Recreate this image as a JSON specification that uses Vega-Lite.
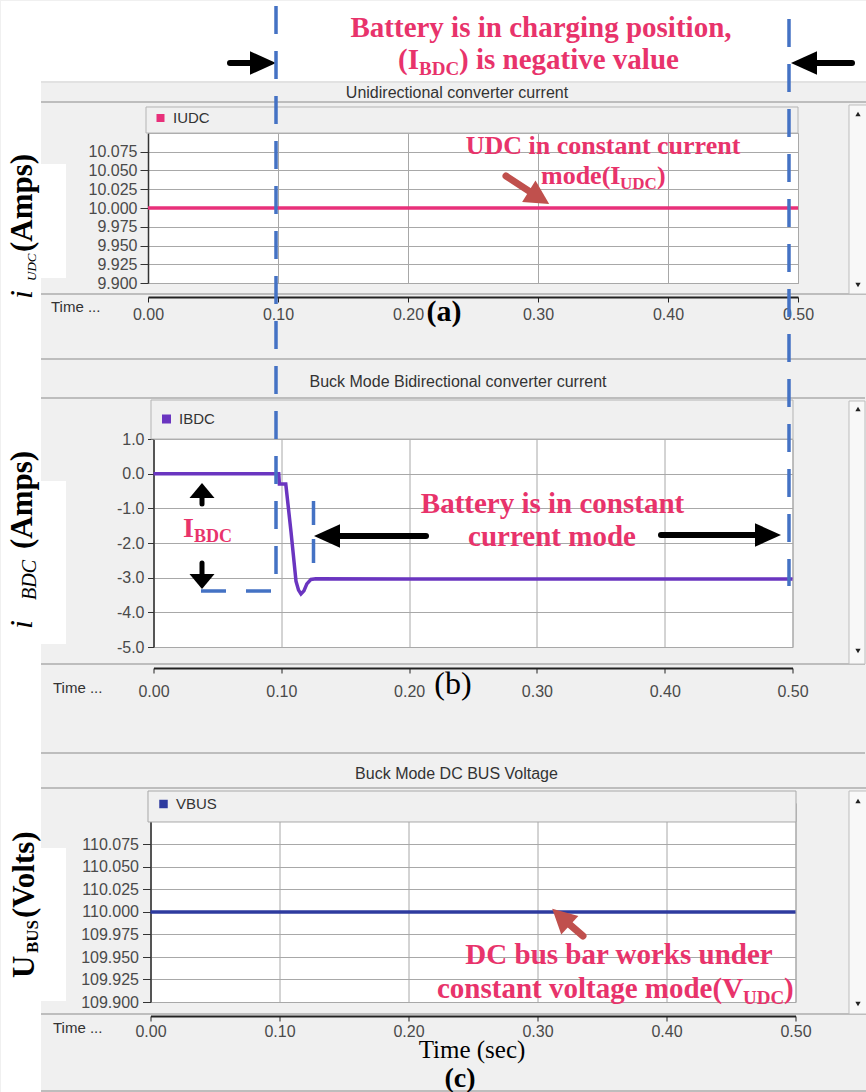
{
"$schema": "https://vega.github.io/schema/vega-lite/v6.json",
"background": "#f0f0f0",
"padding": 0,
"autosize": {"type": "pad"},
"config": {
  "view": {"fill": "white", "stroke": "#a8a8a8", "strokeWidth": 1},
  "axis": {"labelFont": "Liberation Sans", "labelFontSize": 16, "labelColor": "#4a4a4a", "labelFlush": false, "labelOverlap": false, "gridColor": "#a8a8a8", "gridWidth": 1, "tickColor": "#333", "domainColor": "#333"}
},
"datasets": {
  "iudc": [{"t": 0, "v": 10, "s": "IUDC"}, {"t": 0.5, "v": 10, "s": "IUDC"}],
  "ibdc": [
    {"t": 0, "v": 0, "s": "IBDC"}, {"t": 0.098, "v": 0, "s": "IBDC"}, {"t": 0.0985, "v": -0.3, "s": "IBDC"},
    {"t": 0.1035, "v": -0.3, "s": "IBDC"}, {"t": 0.1076, "v": -1.68, "s": "IBDC"}, {"t": 0.1115, "v": -3.1, "s": "IBDC"},
    {"t": 0.1135, "v": -3.36, "s": "IBDC"}, {"t": 0.1154, "v": -3.47, "s": "IBDC"}, {"t": 0.1177, "v": -3.38, "s": "IBDC"},
    {"t": 0.12, "v": -3.18, "s": "IBDC"}, {"t": 0.1232, "v": -3.05, "s": "IBDC"}, {"t": 0.127, "v": -3.03, "s": "IBDC"},
    {"t": 0.2, "v": -3.04, "s": "IBDC"}, {"t": 0.3, "v": -3.04, "s": "IBDC"}, {"t": 0.4, "v": -3.04, "s": "IBDC"}, {"t": 0.5, "v": -3.04, "s": "IBDC"}
  ],
  "vbus": [{"t": 0, "v": 110, "s": "VBUS"}, {"t": 0.5, "v": 110, "s": "VBUS"}]
},
"vconcat": [
{
  "width": 650, "height": 150,
  "data": {"values": [{}]},
  "resolve": {"axis": {"x": "independent", "y": "independent"}},
  "layer": [
    {"data": {"name": "iudc"}, "mark": {"type": "line", "strokeWidth": 3.5},
     "encoding": {
       "x": {"field": "t", "type": "quantitative", "scale": {"domain": [0, 0.5], "nice": false, "zero": false},
             "axis": {"title": null, "values": [0, 0.1, 0.2, 0.3, 0.4, 0.5], "format": ".2f", "offset": 14, "tickSize": 5, "labelPadding": 4, "domainWidth": 2, "domainColor": "#222", "tickColor": "#222", "grid": true}},
       "y": {"field": "v", "type": "quantitative", "scale": {"domain": [9.9, 10.1], "nice": false, "zero": false},
             "axis": {"title": null, "values": [9.9, 9.925, 9.95, 9.975, 10, 10.025, 10.05, 10.075], "format": ".3f", "tickSize": 8, "labelPadding": 3, "domainWidth": 1.5, "grid": true}},
       "color": {"field": "s", "type": "nominal", "scale": {"range": ["#e8307a"]},
                 "legend": {"title": null, "orient": "none", "legendX": 5, "legendY": -22.5, "symbolType": "square", "symbolSize": 64, "symbolStrokeWidth": 0, "symbolFillColor": "#e8307a", "labelFont": "Liberation Sans", "labelFontSize": 15, "labelColor": "#333", "labelOffset": 5, "padding": 0,
                            "encode": {"symbols": {"update": {"fill": {"value": "#e8307a"}, "stroke": {"value": "#e8307a"}}}}}}
     }},
    {"mark": {"type": "rect", "color": "white"}, "encoding": {"x": {"datum": -0.113077, "type": "quantitative", "axis": null}, "x2": {"datum": 0.553077}, "y": {"datum": 10.276, "type": "quantitative", "axis": null}, "y2": {"datum": 10.169333}}},
    {"mark": {"type": "rect", "color": "white"}, "encoding": {"x": {"datum": -0.113077, "type": "quantitative", "axis": null}, "x2": {"datum": -0.082308}, "y": {"datum": 10.276, "type": "quantitative", "axis": null}, "y2": {"datum": 8.82}}},
    {"mark": {"type": "rect", "color": "white"}, "encoding": {"x": {"datum": -0.082308, "type": "quantitative", "axis": null}, "x2": {"datum": -0.063077}, "y": {"datum": 10.058667, "type": "quantitative", "axis": null}, "y2": {"datum": 9.906667}}},
    {"mark": {"type": "rule", "color": "#d4d4d4", "strokeWidth": 1}, "encoding": {"x": {"datum": -0.082308, "type": "quantitative", "axis": null}, "x2": {"datum": 0.553077}, "y": {"datum": 10.168, "type": "quantitative", "axis": null}}},
    {"mark": {"type": "rule", "color": "#bdbdbd", "strokeWidth": 2}, "encoding": {"x": {"datum": -0.082308, "type": "quantitative", "axis": null}, "x2": {"datum": 0.553077}, "y": {"datum": 10.141333, "type": "quantitative", "axis": null}}},
    {"mark": {"type": "rule", "color": "#bdbdbd", "strokeWidth": 2}, "encoding": {"x": {"datum": -0.082308, "type": "quantitative", "axis": null}, "x2": {"datum": 0.553077}, "y": {"datum": 9.885333, "type": "quantitative", "axis": null}}},
    {"mark": {"type": "rule", "color": "#bdbdbd", "strokeWidth": 2}, "encoding": {"x": {"datum": -0.082308, "type": "quantitative", "axis": null}, "x2": {"datum": 0.553077}, "y": {"datum": 9.798667, "type": "quantitative", "axis": null}}},
    {"mark": {"type": "rect", "fill": "#f0f0f0", "stroke": "#b4b4b4", "strokeWidth": 1}, "encoding": {"x": {"datum": -0.001538, "type": "quantitative", "axis": null}, "x2": {"datum": 0.5}, "y": {"datum": 10.134667, "type": "quantitative", "axis": null}, "y2": {"datum": 10.1}}},
    {"mark": {"type": "rect", "fill": "#f8f8f8", "stroke": "#bdbdbd", "strokeWidth": 1}, "encoding": {"x": {"datum": 0.539231, "type": "quantitative", "axis": null}, "x2": {"datum": 0.553077}, "y": {"datum": 10.137333, "type": "quantitative", "axis": null}, "y2": {"datum": 9.885333}}},
    {"mark": {"type": "point", "shape": "triangle-up", "size": 28, "filled": true, "color": "#222", "opacity": 1}, "encoding": {"x": {"datum": 0.546154, "type": "quantitative", "axis": null}, "y": {"datum": 10.125333, "type": "quantitative", "axis": null}}},
    {"mark": {"type": "point", "shape": "triangle-down", "size": 28, "filled": true, "color": "#222", "opacity": 1}, "encoding": {"x": {"datum": 0.546154, "type": "quantitative", "axis": null}, "y": {"datum": 9.897333, "type": "quantitative", "axis": null}}},
    {"mark": {"type": "text", "text": "Unidirectional converter current", "font": "Liberation Sans", "fontSize": 16, "color": "#333", "align": "center", "baseline": "middle"}, "encoding": {"x": {"datum": 0.237692, "type": "quantitative", "axis": null}, "y": {"datum": 10.153333, "type": "quantitative", "axis": null}}},
    {"mark": {"type": "text", "text": "Time ...", "font": "Liberation Sans", "fontSize": 15, "color": "#333", "align": "left", "baseline": "middle"}, "encoding": {"x": {"datum": -0.074615, "type": "quantitative", "axis": null}, "y": {"datum": 9.868, "type": "quantitative", "axis": null}}},
    {"mark": {"type": "text", "text": "i", "font": "Liberation Serif", "fontSize": 32, "fontStyle": "italic", "color": "#000", "angle": 270, "align": "left", "baseline": "alphabetic"}, "encoding": {"x": {"datum": -0.089231, "type": "quantitative", "axis": null}, "y": {"datum": 9.878667, "type": "quantitative", "axis": null}}},
    {"mark": {"type": "text", "text": "UDC", "font": "Liberation Serif", "fontSize": 13, "fontStyle": "italic", "color": "#000", "angle": 270, "align": "left", "baseline": "alphabetic"}, "encoding": {"x": {"datum": -0.086154, "type": "quantitative", "axis": null}, "y": {"datum": 9.902667, "type": "quantitative", "axis": null}}},
    {"mark": {"type": "text", "text": "(Amps)", "font": "Liberation Serif", "fontSize": 31, "fontWeight": "bold", "color": "#000", "angle": 270, "align": "left", "baseline": "alphabetic"}, "encoding": {"x": {"datum": -0.089231, "type": "quantitative", "axis": null}, "y": {"datum": 9.941333, "type": "quantitative", "axis": null}}},
    {"mark": {"type": "text", "text": "(a)", "font": "Liberation Serif", "fontSize": 30, "fontWeight": "bold", "color": "#000", "align": "center", "baseline": "alphabetic"}, "encoding": {"x": {"datum": 0.227692, "type": "quantitative", "axis": null}, "y": {"datum": 9.849333, "type": "quantitative", "axis": null}}},
    {"mark": {"type": "text", "text": "Battery is in charging position,", "font": "Liberation Serif", "fontSize": 29, "fontWeight": "bold", "color": "#e8336b", "align": "center", "baseline": "alphabetic"}, "encoding": {"x": {"datum": 0.302308, "type": "quantitative", "axis": null}, "y": {"datum": 10.228, "type": "quantitative", "axis": null}}},
    {"mark": {"type": "text", "text": "(I", "font": "Liberation Serif", "fontSize": 29, "fontWeight": "bold", "color": "#e8336b", "align": "left", "baseline": "alphabetic"}, "encoding": {"x": {"datum": 0.192308, "type": "quantitative", "axis": null}, "y": {"datum": 10.185333, "type": "quantitative", "axis": null}}},
    {"mark": {"type": "text", "text": "BDC", "font": "Liberation Serif", "fontSize": 19, "fontWeight": "bold", "color": "#e8336b", "align": "left", "baseline": "alphabetic"}, "encoding": {"x": {"datum": 0.208462, "type": "quantitative", "axis": null}, "y": {"datum": 10.177333, "type": "quantitative", "axis": null}}},
    {"mark": {"type": "text", "text": ") is negative value", "font": "Liberation Serif", "fontSize": 29, "fontWeight": "bold", "color": "#e8336b", "align": "left", "baseline": "alphabetic"}, "encoding": {"x": {"datum": 0.239231, "type": "quantitative", "axis": null}, "y": {"datum": 10.185333, "type": "quantitative", "axis": null}}},
    {"mark": {"type": "rule", "color": "#000", "strokeWidth": 6, "strokeCap": "round"}, "encoding": {"x": {"datum": 0.063077, "type": "quantitative", "axis": null}, "x2": {"datum": 0.088462}, "y": {"datum": 10.193333, "type": "quantitative", "axis": null}}},
    {"mark": {"type": "point", "shape": "M-1,0L1,-0.9L1,0.9Z", "size": 676, "angle": 180, "filled": true, "color": "#000", "opacity": 1, "strokeWidth": 0}, "encoding": {"x": {"datum": 0.088462, "type": "quantitative", "axis": null}, "y": {"datum": 10.193333, "type": "quantitative", "axis": null}}},
    {"mark": {"type": "rule", "color": "#000", "strokeWidth": 6, "strokeCap": "round"}, "encoding": {"x": {"datum": 0.504615, "type": "quantitative", "axis": null}, "x2": {"datum": 0.541538}, "y": {"datum": 10.193333, "type": "quantitative", "axis": null}}},
    {"mark": {"type": "point", "shape": "M-1,0L1,-0.9L1,0.9Z", "size": 676, "angle": 0, "filled": true, "color": "#000", "opacity": 1, "strokeWidth": 0}, "encoding": {"x": {"datum": 0.504615, "type": "quantitative", "axis": null}, "y": {"datum": 10.193333, "type": "quantitative", "axis": null}}},
    {"mark": {"type": "text", "text": "UDC in constant current", "font": "Liberation Serif", "fontSize": 26, "fontWeight": "bold", "color": "#e8336b", "align": "center", "baseline": "alphabetic"}, "encoding": {"x": {"datum": 0.35, "type": "quantitative", "axis": null}, "y": {"datum": 10.072, "type": "quantitative", "axis": null}}},
    {"mark": {"type": "text", "text": "mode(I", "font": "Liberation Serif", "fontSize": 26, "fontWeight": "bold", "color": "#e8336b", "align": "left", "baseline": "alphabetic"}, "encoding": {"x": {"datum": 0.302308, "type": "quantitative", "axis": null}, "y": {"datum": 10.032, "type": "quantitative", "axis": null}}},
    {"mark": {"type": "text", "text": "UDC", "font": "Liberation Serif", "fontSize": 17, "fontWeight": "bold", "color": "#e8336b", "align": "left", "baseline": "alphabetic"}, "encoding": {"x": {"datum": 0.363077, "type": "quantitative", "axis": null}, "y": {"datum": 10.025333, "type": "quantitative", "axis": null}}},
    {"mark": {"type": "text", "text": ")", "font": "Liberation Serif", "fontSize": 26, "fontWeight": "bold", "color": "#e8336b", "align": "left", "baseline": "alphabetic"}, "encoding": {"x": {"datum": 0.391538, "type": "quantitative", "axis": null}, "y": {"datum": 10.032, "type": "quantitative", "axis": null}}},
    {"mark": {"type": "rule", "color": "#c0504d", "strokeWidth": 7, "strokeCap": "round"}, "encoding": {"x": {"datum": 0.275385, "type": "quantitative", "axis": null}, "x2": {"datum": 0.300769}, "y": {"datum": 10.042667, "type": "quantitative", "axis": null}, "y2": {"datum": 10.013867}}},
    {"mark": {"type": "point", "shape": "M-1,0L1,-1.05L1,1.05Z", "size": 576, "angle": 212, "filled": true, "color": "#c0504d", "opacity": 1, "strokeWidth": 0}, "encoding": {"x": {"datum": 0.300769, "type": "quantitative", "axis": null}, "y": {"datum": 10.013867, "type": "quantitative", "axis": null}}}
  ]
},
{
  "width": 639, "height": 208,
  "data": {"values": [{}]},
  "resolve": {"axis": {"x": "independent", "y": "independent"}},
  "layer": [
    {"data": {"name": "ibdc"}, "mark": {"type": "line", "strokeWidth": 3.5},
     "encoding": {
       "x": {"field": "t", "type": "quantitative", "scale": {"domain": [0, 0.5], "nice": false, "zero": false},
             "axis": {"title": null, "values": [0, 0.1, 0.2, 0.3, 0.4, 0.5], "format": ".2f", "offset": 21, "tickSize": 5, "labelPadding": 10, "domainWidth": 2, "domainColor": "#222", "tickColor": "#222", "grid": true}},
       "y": {"field": "v", "type": "quantitative", "scale": {"domain": [-5, 1], "nice": false, "zero": false},
             "axis": {"title": null, "values": [-5, -4, -3, -2, -1, 0, 1], "format": ".1f", "labelExpr": "replace(datum.label, '\u2212', '-')", "tickSize": 6, "labelPadding": 3.5, "domainWidth": 1.5, "grid": true}},
       "color": {"field": "s", "type": "nominal", "scale": {"range": ["#6a35c0"]},
                 "legend": {"title": null, "orient": "none", "legendX": 5.5, "legendY": -27.5, "symbolType": "square", "symbolSize": 81, "symbolStrokeWidth": 0, "symbolFillColor": "#6a35c0", "labelFont": "Liberation Sans", "labelFontSize": 15, "labelColor": "#333", "labelOffset": 5, "padding": 0,
                            "encode": {"symbols": {"update": {"fill": {"value": "#6a35c0"}, "stroke": {"value": "#6a35c0"}}}}}}
     }},
    {"mark": {"type": "rect", "color": "white"}, "encoding": {"x": {"datum": -0.088028, "type": "quantitative", "axis": null}, "x2": {"datum": -0.068466}, "y": {"datum": -0.211538, "type": "quantitative", "axis": null}, "y2": {"datum": -4.913462}}},
    {"mark": {"type": "rule", "color": "#bdbdbd", "strokeWidth": 2}, "encoding": {"x": {"datum": -0.088028, "type": "quantitative", "axis": null}, "x2": {"datum": 0.556729}, "y": {"datum": 2.182692, "type": "quantitative", "axis": null}}},
    {"mark": {"type": "rule", "color": "#bdbdbd", "strokeWidth": 2}, "encoding": {"x": {"datum": -0.088028, "type": "quantitative", "axis": null}, "x2": {"datum": 0.556729}, "y": {"datum": -5.490385, "type": "quantitative", "axis": null}}},
    {"mark": {"type": "rule", "color": "#bdbdbd", "strokeWidth": 2}, "encoding": {"x": {"datum": -0.088028, "type": "quantitative", "axis": null}, "x2": {"datum": 0.556729}, "y": {"datum": -8.057692, "type": "quantitative", "axis": null}}},
    {"mark": {"type": "rect", "fill": "#f0f0f0", "stroke": "#b4b4b4", "strokeWidth": 1}, "encoding": {"x": {"datum": -0.001956, "type": "quantitative", "axis": null}, "x2": {"datum": 0.500391}, "y": {"datum": 2.125, "type": "quantitative", "axis": null}, "y2": {"datum": 1}}},
    {"mark": {"type": "rect", "fill": "#f8f8f8", "stroke": "#bdbdbd", "strokeWidth": 1}, "encoding": {"x": {"datum": 0.54421, "type": "quantitative", "axis": null}, "x2": {"datum": 0.556729}, "y": {"datum": 2.096154, "type": "quantitative", "axis": null}, "y2": {"datum": -5.490385}}},
    {"mark": {"type": "point", "shape": "triangle-up", "size": 28, "filled": true, "color": "#222", "opacity": 1}, "encoding": {"x": {"datum": 0.551252, "type": "quantitative", "axis": null}, "y": {"datum": 1.865385, "type": "quantitative", "axis": null}}},
    {"mark": {"type": "point", "shape": "triangle-down", "size": 28, "filled": true, "color": "#222", "opacity": 1}, "encoding": {"x": {"datum": 0.551252, "type": "quantitative", "axis": null}, "y": {"datum": -5.115385, "type": "quantitative", "axis": null}}},
    {"mark": {"type": "text", "text": "Buck Mode Bidirectional converter current", "font": "Liberation Sans", "fontSize": 16, "color": "#333", "align": "center", "baseline": "middle"}, "encoding": {"x": {"datum": 0.238263, "type": "quantitative", "axis": null}, "y": {"datum": 2.644231, "type": "quantitative", "axis": null}}},
    {"mark": {"type": "text", "text": "Time ...", "font": "Liberation Sans", "fontSize": 15, "color": "#333", "align": "left", "baseline": "middle"}, "encoding": {"x": {"datum": -0.078638, "type": "quantitative", "axis": null}, "y": {"datum": -6.182692, "type": "quantitative", "axis": null}}},
    {"mark": {"type": "text", "text": "i", "font": "Liberation Serif", "fontSize": 32, "fontStyle": "italic", "color": "#000", "angle": 270, "align": "left", "baseline": "alphabetic"}, "encoding": {"x": {"datum": -0.09507, "type": "quantitative", "axis": null}, "y": {"datum": -4.480769, "type": "quantitative", "axis": null}}},
    {"mark": {"type": "text", "text": "BDC", "font": "Liberation Serif", "fontSize": 20, "fontStyle": "italic", "color": "#000", "angle": 270, "align": "left", "baseline": "alphabetic"}, "encoding": {"x": {"datum": -0.091941, "type": "quantitative", "axis": null}, "y": {"datum": -3.644231, "type": "quantitative", "axis": null}}},
    {"mark": {"type": "text", "text": "(Amps)", "font": "Liberation Serif", "fontSize": 31, "fontWeight": "bold", "color": "#000", "angle": 270, "align": "left", "baseline": "alphabetic"}, "encoding": {"x": {"datum": -0.09507, "type": "quantitative", "axis": null}, "y": {"datum": -2.173077, "type": "quantitative", "axis": null}}},
    {"mark": {"type": "text", "text": "(b)", "font": "Liberation Serif", "fontSize": 32, "color": "#000", "align": "center", "baseline": "alphabetic"}, "encoding": {"x": {"datum": 0.234351, "type": "quantitative", "axis": null}, "y": {"datum": -6.355769, "type": "quantitative", "axis": null}}},
    {"mark": {"type": "text", "text": "Battery is in constant", "font": "Liberation Serif", "fontSize": 29, "fontWeight": "bold", "color": "#e8336b", "align": "center", "baseline": "alphabetic"}, "encoding": {"x": {"datum": 0.312207, "type": "quantitative", "axis": null}, "y": {"datum": -1.134615, "type": "quantitative", "axis": null}}},
    {"mark": {"type": "text", "text": "current mode", "font": "Liberation Serif", "fontSize": 29, "fontWeight": "bold", "color": "#e8336b", "align": "center", "baseline": "alphabetic"}, "encoding": {"x": {"datum": 0.311815, "type": "quantitative", "axis": null}, "y": {"datum": -2.086538, "type": "quantitative", "axis": null}}},
    {"mark": {"type": "rule", "color": "#000", "strokeWidth": 6, "strokeCap": "round"}, "encoding": {"x": {"datum": 0.135759, "type": "quantitative", "axis": null}, "x2": {"datum": 0.213224}, "y": {"datum": -1.798077, "type": "quantitative", "axis": null}}},
    {"mark": {"type": "point", "shape": "M-1,0L1,-0.9L1,0.9Z", "size": 676, "angle": 0, "filled": true, "color": "#000", "opacity": 1, "strokeWidth": 0}, "encoding": {"x": {"datum": 0.135759, "type": "quantitative", "axis": null}, "y": {"datum": -1.798077, "type": "quantitative", "axis": null}}},
    {"mark": {"type": "rule", "color": "#000", "strokeWidth": 6, "strokeCap": "round"}, "encoding": {"x": {"datum": 0.397105, "type": "quantitative", "axis": null}, "x2": {"datum": 0.480829}, "y": {"datum": -1.769231, "type": "quantitative", "axis": null}}},
    {"mark": {"type": "point", "shape": "M-1,0L1,-0.9L1,0.9Z", "size": 676, "angle": 180, "filled": true, "color": "#000", "opacity": 1, "strokeWidth": 0}, "encoding": {"x": {"datum": 0.480829, "type": "quantitative", "axis": null}, "y": {"datum": -1.769231, "type": "quantitative", "axis": null}}},
    {"mark": {"type": "text", "text": "I", "font": "Liberation Serif", "fontSize": 28, "fontWeight": "bold", "color": "#e8336b", "align": "left", "baseline": "alphabetic"}, "encoding": {"x": {"datum": 0.023083, "type": "quantitative", "axis": null}, "y": {"datum": -1.826923, "type": "quantitative", "axis": null}}},
    {"mark": {"type": "text", "text": "BDC", "font": "Liberation Serif", "fontSize": 18, "fontWeight": "bold", "color": "#e8336b", "align": "left", "baseline": "alphabetic"}, "encoding": {"x": {"datum": 0.03169, "type": "quantitative", "axis": null}, "y": {"datum": -1.971154, "type": "quantitative", "axis": null}}},
    {"mark": {"type": "rule", "color": "#000", "strokeWidth": 5, "strokeCap": "round"}, "encoding": {"x": {"datum": 0.03795, "type": "quantitative", "axis": null}, "y": {"datum": -0.485577, "type": "quantitative", "axis": null}, "y2": {"datum": -0.875}}},
    {"mark": {"type": "point", "shape": "M-0.6,0L0.6,-1L0.6,1Z", "size": 625, "angle": 90, "filled": true, "color": "#000", "opacity": 1, "strokeWidth": 0}, "encoding": {"x": {"datum": 0.03795, "type": "quantitative", "axis": null}, "y": {"datum": -0.485577, "type": "quantitative", "axis": null}}},
    {"mark": {"type": "rule", "color": "#000", "strokeWidth": 5, "strokeCap": "round"}, "encoding": {"x": {"datum": 0.03795, "type": "quantitative", "axis": null}, "y": {"datum": -2.576923, "type": "quantitative", "axis": null}, "y2": {"datum": -3.110577}}},
    {"mark": {"type": "point", "shape": "M-0.6,0L0.6,-1L0.6,1Z", "size": 625, "angle": 270, "filled": true, "color": "#000", "opacity": 1, "strokeWidth": 0}, "encoding": {"x": {"datum": 0.03795, "type": "quantitative", "axis": null}, "y": {"datum": -3.110577, "type": "quantitative", "axis": null}}},
    {"mark": {"type": "rule", "color": "#4472c4", "strokeWidth": 3.5, "strokeDash": [28, 17]}, "encoding": {"x": {"datum": 0.095853, "type": "quantitative", "axis": null}, "y": {"datum": 13.490385, "type": "quantitative", "axis": null}, "y2": {"datum": -3.384615}}},
    {"mark": {"type": "rule", "color": "#4472c4", "strokeWidth": 3.5, "strokeDash": [25, 20]}, "encoding": {"x": {"datum": 0.037167, "type": "quantitative", "axis": null}, "x2": {"datum": 0.095853}, "y": {"datum": -3.384615, "type": "quantitative", "axis": null}}},
    {"mark": {"type": "rule", "color": "#4472c4", "strokeWidth": 3.5, "strokeDash": [28, 17]}, "encoding": {"x": {"datum": 0.497261, "type": "quantitative", "axis": null}, "y": {"datum": 13.115385, "type": "quantitative", "axis": null}, "y2": {"datum": -3.240385}}},
    {"mark": {"type": "rule", "color": "#4472c4", "strokeWidth": 3.5, "strokeDash": [24, 14]}, "encoding": {"x": {"datum": 0.125196, "type": "quantitative", "axis": null}, "y": {"datum": -0.788462, "type": "quantitative", "axis": null}, "y2": {"datum": -2.951923}}}
  ]
},
{
  "width": 645, "height": 199,
  "data": {"values": [{}]},
  "resolve": {"axis": {"x": "independent", "y": "independent"}},
  "layer": [
    {"data": {"name": "vbus"}, "mark": {"type": "line", "strokeWidth": 3.5},
     "encoding": {
       "x": {"field": "t", "type": "quantitative", "scale": {"domain": [0, 0.5], "nice": false, "zero": false},
             "axis": {"title": null, "values": [0, 0.1, 0.2, 0.3, 0.4, 0.5], "format": ".2f", "offset": 14, "tickSize": 5, "labelPadding": 2, "domainWidth": 2, "domainColor": "#222", "tickColor": "#222", "grid": true}},
       "y": {"field": "v", "type": "quantitative", "scale": {"domain": [109.9, 110.121111], "nice": false, "zero": false},
             "axis": {"title": null, "values": [109.9, 109.925, 109.95, 109.975, 110, 110.025, 110.05, 110.075], "format": ".3f", "tickSize": 8, "labelPadding": 4, "domainWidth": 1.5, "grid": true}},
       "color": {"field": "s", "type": "nominal", "scale": {"range": ["#2e3b9f"]},
                 "legend": {"title": null, "orient": "none", "legendX": 5.5, "legendY": -6.5, "symbolType": "square", "symbolSize": 72, "symbolStrokeWidth": 0, "symbolFillColor": "#2e3b9f", "labelFont": "Liberation Sans", "labelFontSize": 15, "labelColor": "#333", "labelOffset": 5, "padding": 0,
                            "encode": {"symbols": {"update": {"fill": {"value": "#2e3b9f"}, "stroke": {"value": "#2e3b9f"}}}}}}
     }},
    {"mark": {"type": "rect", "color": "white"}, "encoding": {"x": {"datum": -0.084884, "type": "quantitative", "axis": null}, "x2": {"datum": -0.065504}, "y": {"datum": 110.071111, "type": "quantitative", "axis": null}, "y2": {"datum": 109.901111}}},
    {"mark": {"type": "rule", "color": "#bdbdbd", "strokeWidth": 2}, "encoding": {"x": {"datum": -0.084884, "type": "quantitative", "axis": null}, "x2": {"datum": 0.555426}, "y": {"datum": 110.137778, "type": "quantitative", "axis": null}}},
    {"mark": {"type": "rule", "color": "#bdbdbd", "strokeWidth": 2}, "encoding": {"x": {"datum": -0.084884, "type": "quantitative", "axis": null}, "x2": {"datum": 0.555426}, "y": {"datum": 109.886667, "type": "quantitative", "axis": null}}},
    {"mark": {"type": "rule", "color": "#bdbdbd", "strokeWidth": 2}, "encoding": {"x": {"datum": -0.084884, "type": "quantitative", "axis": null}, "x2": {"datum": 0.555426}, "y": {"datum": 109.801111, "type": "quantitative", "axis": null}}},
    {"mark": {"type": "rect", "fill": "#f0f0f0", "stroke": "#a8a8a8", "strokeWidth": 1}, "encoding": {"x": {"datum": -0.001938, "type": "quantitative", "axis": null}, "x2": {"datum": 0.500388}, "y": {"datum": 110.134444, "type": "quantitative", "axis": null}, "y2": {"datum": 110.1}}},
    {"mark": {"type": "rect", "fill": "#f8f8f8", "stroke": "#bdbdbd", "strokeWidth": 1}, "encoding": {"x": {"datum": 0.541473, "type": "quantitative", "axis": null}, "x2": {"datum": 0.555426}, "y": {"datum": 110.134444, "type": "quantitative", "axis": null}, "y2": {"datum": 109.886667}}},
    {"mark": {"type": "point", "shape": "triangle-up", "size": 28, "filled": true, "color": "#222", "opacity": 1}, "encoding": {"x": {"datum": 0.54845, "type": "quantitative", "axis": null}, "y": {"datum": 110.123333, "type": "quantitative", "axis": null}}},
    {"mark": {"type": "point", "shape": "triangle-down", "size": 28, "filled": true, "color": "#222", "opacity": 1}, "encoding": {"x": {"datum": 0.54845, "type": "quantitative", "axis": null}, "y": {"datum": 109.897778, "type": "quantitative", "axis": null}}},
    {"mark": {"type": "text", "text": "Buck Mode DC BUS Voltage", "font": "Liberation Sans", "fontSize": 16, "color": "#333", "align": "center", "baseline": "middle"}, "encoding": {"x": {"datum": 0.237209, "type": "quantitative", "axis": null}, "y": {"datum": 110.153333, "type": "quantitative", "axis": null}}},
    {"mark": {"type": "text", "text": "Time ...", "font": "Liberation Sans", "fontSize": 15, "color": "#333", "align": "left", "baseline": "middle"}, "encoding": {"x": {"datum": -0.075581, "type": "quantitative", "axis": null}, "y": {"datum": 109.871111, "type": "quantitative", "axis": null}}},
    {"mark": {"type": "text", "text": "U", "font": "Liberation Serif", "fontSize": 31, "fontWeight": "bold", "color": "#000", "angle": 270, "align": "left", "baseline": "alphabetic"}, "encoding": {"x": {"datum": -0.09031, "type": "quantitative", "axis": null}, "y": {"datum": 109.926667, "type": "quantitative", "axis": null}}},
    {"mark": {"type": "text", "text": "BUS", "font": "Liberation Serif", "fontSize": 17, "fontWeight": "bold", "color": "#000", "angle": 270, "align": "left", "baseline": "alphabetic"}, "encoding": {"x": {"datum": -0.087209, "type": "quantitative", "axis": null}, "y": {"datum": 109.954444, "type": "quantitative", "axis": null}}},
    {"mark": {"type": "text", "text": "(Volts)", "font": "Liberation Serif", "fontSize": 31, "fontWeight": "bold", "color": "#000", "angle": 270, "align": "left", "baseline": "alphabetic"}, "encoding": {"x": {"datum": -0.09031, "type": "quantitative", "axis": null}, "y": {"datum": 109.993333, "type": "quantitative", "axis": null}}},
    {"mark": {"type": "text", "text": "DC bus bar works under", "font": "Liberation Serif", "fontSize": 29, "fontWeight": "bold", "color": "#e8336b", "align": "center", "baseline": "alphabetic"}, "encoding": {"x": {"datum": 0.363178, "type": "quantitative", "axis": null}, "y": {"datum": 109.942222, "type": "quantitative", "axis": null}}},
    {"mark": {"type": "text", "text": "constant voltage mode(V", "font": "Liberation Serif", "fontSize": 29, "fontWeight": "bold", "color": "#e8336b", "align": "left", "baseline": "alphabetic"}, "encoding": {"x": {"datum": 0.222093, "type": "quantitative", "axis": null}, "y": {"datum": 109.904444, "type": "quantitative", "axis": null}}},
    {"mark": {"type": "text", "text": "UDC", "font": "Liberation Serif", "fontSize": 19, "fontWeight": "bold", "color": "#e8336b", "align": "left", "baseline": "alphabetic"}, "encoding": {"x": {"datum": 0.459302, "type": "quantitative", "axis": null}, "y": {"datum": 109.897778, "type": "quantitative", "axis": null}}},
    {"mark": {"type": "text", "text": ")", "font": "Liberation Serif", "fontSize": 29, "fontWeight": "bold", "color": "#e8336b", "align": "left", "baseline": "alphabetic"}, "encoding": {"x": {"datum": 0.491085, "type": "quantitative", "axis": null}, "y": {"datum": 109.904444, "type": "quantitative", "axis": null}}},
    {"mark": {"type": "rule", "color": "#c0504d", "strokeWidth": 7, "strokeCap": "round"}, "encoding": {"x": {"datum": 0.335271, "type": "quantitative", "axis": null}, "x2": {"datum": 0.318217}, "y": {"datum": 109.973333, "type": "quantitative", "axis": null}, "y2": {"datum": 109.994444}}},
    {"mark": {"type": "point", "shape": "M-1,0L1,-1.05L1,1.05Z", "size": 576, "angle": 42.8, "filled": true, "color": "#c0504d", "opacity": 1, "strokeWidth": 0}, "encoding": {"x": {"datum": 0.318217, "type": "quantitative", "axis": null}, "y": {"datum": 109.994444, "type": "quantitative", "axis": null}}},
    {"mark": {"type": "text", "text": "Time (sec)", "font": "Liberation Serif", "fontSize": 25, "color": "#000", "align": "center", "baseline": "alphabetic"}, "encoding": {"x": {"datum": 0.249225, "type": "quantitative", "axis": null}, "y": {"datum": 109.837778, "type": "quantitative", "axis": null}}},
    {"mark": {"type": "text", "text": "(c)", "font": "Liberation Serif", "fontSize": 28, "fontWeight": "bold", "color": "#000", "align": "center", "baseline": "alphabetic"}, "encoding": {"x": {"datum": 0.239922, "type": "quantitative", "axis": null}, "y": {"datum": 109.805556, "type": "quantitative", "axis": null}}}
  ]
}
],
"spacing": 156,
"bounds": "flush",
"center": true,
"resolve": {"scale": {"color": "independent"}, "legend": {"color": "independent"}}
}
